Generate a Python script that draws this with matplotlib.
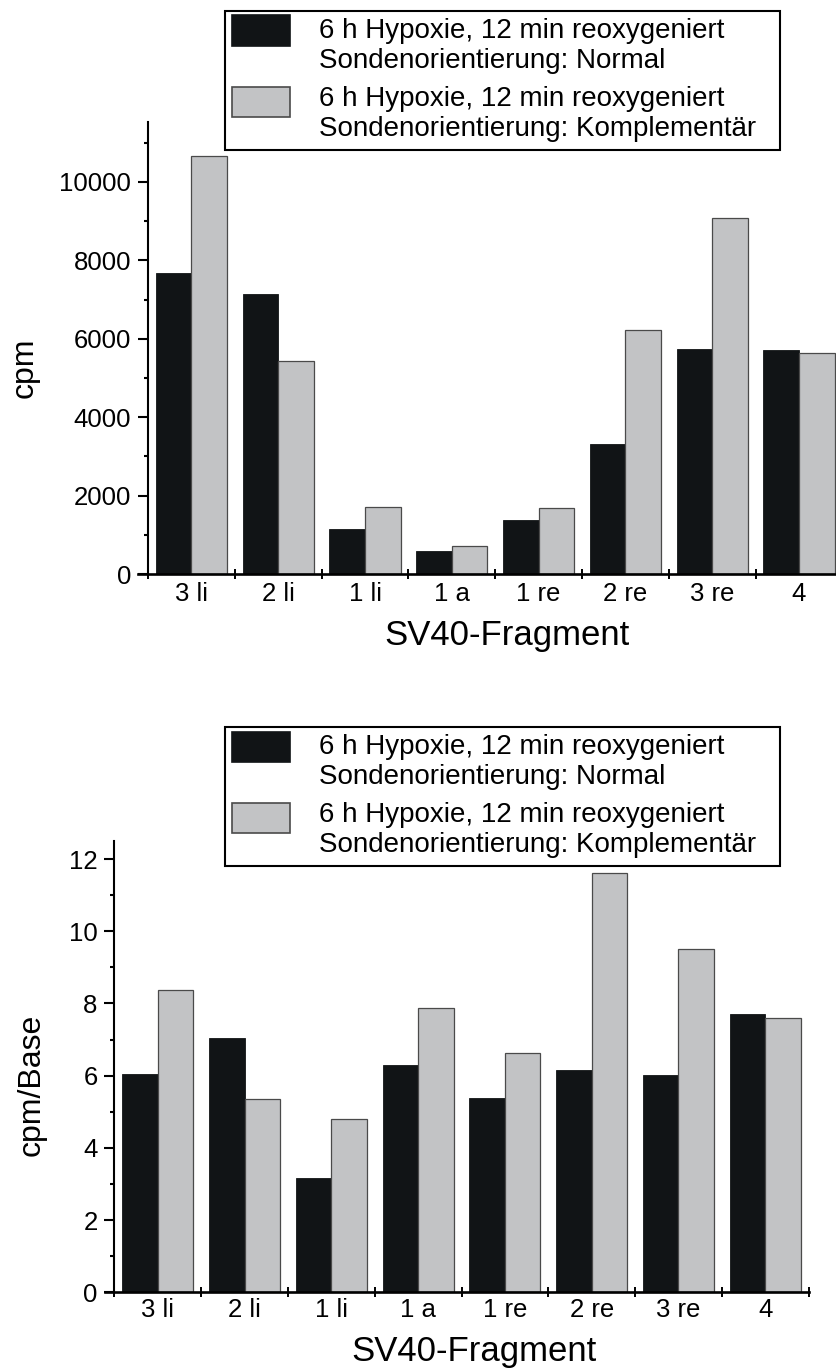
import numpy as np
import matplotlib
matplotlib.use("Agg")
import matplotlib.pyplot as plt
from matplotlib.patches import Rectangle
from matplotlib.ticker import MultipleLocator

plt.rcParams['font.family'] = ['Liberation Sans', 'DejaVu Sans']

fragments = ["3 li", "2 li", "1 li", "1 a", "1 re", "2 re", "3 re", "4"]

# cpm
cpm_normal = [7670, 7130, 1140, 590, 1370, 3310, 5750, 5710]
cpm_kompl = [10670, 5430, 1720, 720, 1690, 6230, 9080, 5650]

# cpm/Base
base_normal = [6.05, 7.03, 3.15, 6.29, 5.39, 6.15, 6.03, 7.70]
base_kompl = [8.38, 5.36, 4.79, 7.86, 6.63, 11.61, 9.52, 7.59]

label_normal = ["6 h Hypoxie, 12 min reoxygeniert", "Sondenorientierung: Normal"]
label_kompl = ["6 h Hypoxie, 12 min reoxygeniert", "Sondenorientierung: Komplementär"]

BLACK = "#111416"
GRAY = "#c2c3c5"
GRAY_EDGE = "#4a4a4a"
W, H = 836, 1371

fig = plt.figure(figsize=(W / 100, H / 100), dpi=100)


def fx(px):
    return px / W


def fy(py):
    return 1 - py / H


def legend_box(top):
    # frame + two entries, handle aligned with first text line (like the original)
    fig.patches.append(Rectangle((fx(225), fy(top + 139)), fx(555), 139 / H,
                                 transform=fig.transFigure, facecolor='white',
                                 edgecolor='black', linewidth=1.5, zorder=5))
    entries = [(BLACK, BLACK, label_normal, 4.5), (GRAY, GRAY_EDGE, label_kompl, 76)]
    for i, (fc, ec, lines, htop) in enumerate(entries):
        fig.patches.append(Rectangle((fx(232), fy(top + htop + 30)), fx(58), 30 / H,
                                     transform=fig.transFigure, facecolor=fc,
                                     edgecolor=ec, linewidth=1.2, zorder=6))
        base = 26.7 + i * 68.5
        for j, line in enumerate(lines):
            fig.text(fx(319), fy(top + base + j * 30), line, fontsize=20,
                     va='baseline', ha='left', zorder=7)


def draw(ax, normal, kompl, ylabel, ymax, ystep, xleft, ylab_pos, xlab_pos, xpad):
    x = np.arange(len(fragments))
    bw = 0.41
    ax.bar(x - bw / 2, normal, bw, color=BLACK, edgecolor=BLACK, linewidth=0.6)
    ax.bar(x + bw / 2, kompl, bw, color=GRAY, edgecolor=GRAY_EDGE, linewidth=0.9)
    ax.set_xlim(xleft, 7.5)
    ax.set_ylim(0, ymax)

    ax.spines['top'].set_visible(False)
    ax.spines['right'].set_visible(False)
    ax.spines['left'].set_position(('data', -0.5))
    ax.spines['left'].set_linewidth(1.5)
    ax.spines['bottom'].set_linewidth(1.9)

    ax.set_xticks(np.arange(-0.5, 8, 1.0))
    ax.set_xticklabels([])
    ax.set_xticks(x, minor=True)
    ax.set_xticklabels(fragments, minor=True)
    ax.tick_params(axis='x', which='major', direction='inout', length=7.5, width=1.4)
    ax.tick_params(axis='x', which='minor', length=0, pad=xpad, labelsize=18.5)

    ax.yaxis.set_major_locator(MultipleLocator(ystep))
    ax.yaxis.set_minor_locator(MultipleLocator(ystep / 2))
    ax.tick_params(axis='y', which='major', direction='out', length=7.2, width=1.5,
                   pad=5, labelsize=18.5)
    ax.tick_params(axis='y', which='minor', direction='out', length=3.2, width=1.5)

    ax.set_ylabel(ylabel, fontsize=23)
    ax.yaxis.label.set_va('center')
    ax.yaxis.set_label_coords(*ylab_pos)
    ax.set_xlabel("SV40-Fragment", fontsize=25)
    ax.xaxis.label.set_va('center')
    ax.xaxis.set_label_coords(*xlab_pos)


ax1 = fig.add_axes([fx(137.6), fy(574), fx(704.8), 452 / H])
draw(ax1, cpm_normal, cpm_kompl, "cpm", 11530, 2000, -0.62,
     (-0.16, 0.456), (0.524, -0.137), 6)
legend_box(11)

ax2 = fig.add_axes([fx(104.5), fy(1292.2), fx(704.1), 451.2 / H])
draw(ax2, base_normal, base_kompl, "cpm/Base", 12.5, 2, -0.615,
     (-0.103, 0.459), (0.525, -0.1325), 4)
legend_box(727.3)

fig.savefig("out.png", dpi=100)
